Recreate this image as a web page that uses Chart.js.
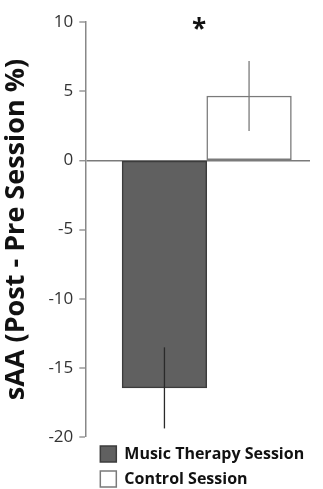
<!DOCTYPE html>
<html>
<head>
<meta charset="utf-8">
<script src="https://cdn.jsdelivr.net/npm/chart.js@4.4.1/dist/chart.umd.min.js"></script>
<style>
html,body{margin:0;padding:0;background:#fff;overflow:hidden;}
#wrap{width:323px;height:497px;position:relative;}
</style>
</head>
<body>
<div id="wrap"><canvas id="c"></canvas></div>
<script>
// sessions, mean change and standard error
const sessions=['Music Therapy Session','Control Session'];
const sessionPos=[1,2];
const meanChange=[-16.45,4.65];
const stdErr=[2.93,2.53];
const yTicks=[-20,-15,-10,-5,0,5,10];
const sigMark={text:'*',x:1.41,y:9.7};

const FILL=['#606060','#ffffff'];
const EDGE=['#3c3c3c','#7a7a7a'];
const ERR=['#2a2a2a','#7a7a7a'];

const errorBarPlugin={
  id:'errorBars',
  afterDatasetsDraw(chart){
    const {ctx}=chart;
    const y=chart.scales.y;
    ctx.save();
    chart.data.datasets.forEach((ds,i)=>{
      const bar=chart.getDatasetMeta(i).data[0];
      if(!bar) return;
      const v=ds.data[0].y;
      ctx.strokeStyle=ERR[i];
      ctx.lineWidth=1.3;
      ctx.beginPath();
      ctx.moveTo(bar.x,y.getPixelForValue(v-stdErr[i]));
      ctx.lineTo(bar.x,y.getPixelForValue(v+stdErr[i]));
      ctx.stroke();
    });
    ctx.restore();
  }
};

const sigPlugin={
  id:'sigMark',
  afterDraw(chart){
    const {ctx}=chart;
    const x=chart.scales.x.getPixelForValue(sigMark.x);
    const y=chart.scales.y.getPixelForValue(sigMark.y);
    ctx.save();
    ctx.fillStyle='#111';
    ctx.font='bold 26px "Open Sans"';
    ctx.textAlign='center';
    ctx.textBaseline='middle';
    ctx.fillText(sigMark.text,x,y+4);
    ctx.restore();
  }
};

// nudge the legend a little to the right, as in the original figure
const legendShift={
  id:'legendShift',
  afterLayout(chart){
    const lg=chart.legend;
    if(!lg) return;
    lg.left+=6;
    lg.right+=6;
  }
};

const datasets=sessions.map((name,i)=>({
  label:name,
  data:[{x:sessionPos[i],y:meanChange[i]}],
  backgroundColor:FILL[i],
  borderColor:EDGE[i],
  borderWidth:1.5,
  borderSkipped:false,
  grouped:false,
  barPercentage:1,
  categoryPercentage:1
}));

new Chart(document.getElementById('c'),{
  type:'bar',
  data:{datasets},
  options:{
    responsive:true,
    maintainAspectRatio:false,
    animation:false,
    layout:{padding:{top:22,right:13,left:0,bottom:0}},
    plugins:{
      tooltip:{enabled:false},
      legend:{
        position:'bottom',
        align:'start',
        fullSize:false,
        labels:{
          boxWidth:16,
          boxHeight:16,
          padding:9,
          color:'#111',
          font:{family:'"Open Sans"',size:16,weight:'bold'}
        }
      }
    },
    scales:{
      x:{
        type:'linear',
        display:false,
        min:0.065,
        max:2.72,
        afterBuildTicks(scale){ scale.ticks=[]; }
      },
      y:{
        min:-20,
        max:10,
        afterBuildTicks(scale){ scale.ticks=yTicks.map(v=>({value:v})); },
        border:{display:true,color:'#888',width:1.5},
        grid:{
          drawOnChartArea:true,
          color:c=>c.tick&&c.tick.value===0?'#7a7a7a':'rgba(0,0,0,0)',
          lineWidth:c=>c.tick&&c.tick.value===0?1.5:0,
          tickColor:'#888',
          tickWidth:1.3,
          tickLength:6
        },
        ticks:{
          color:'#333',
          padding:6,
          font:{family:'"Open Sans"',size:17}
        },
        title:{
          display:true,
          text:'sAA (Post - Pre Session %)',
          color:'#111',
          font:{family:'"Open Sans"',size:27,weight:'bold'},
          padding:{top:0,bottom:10}
        }
      }
    }
  },
  plugins:[errorBarPlugin,sigPlugin,legendShift]
});
</script>
</body>
</html>
